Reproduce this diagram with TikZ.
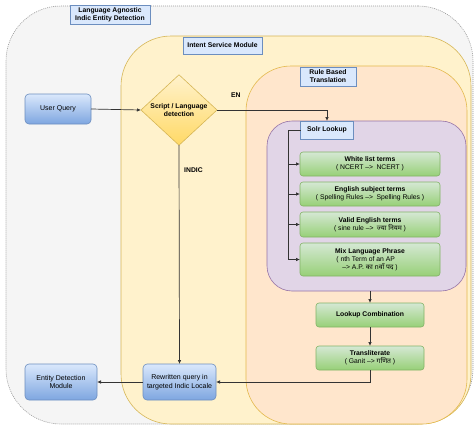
\documentclass[tikz,border=0pt]{standalone}
\usepackage{fontspec}
\setmainfont{Liberation Sans}
\newfontfamily\deva[Script=Devanagari]{Noto Sans}
\usetikzlibrary{shapes.geometric,arrows.meta}
\definecolor{greyfill}{HTML}{F5F5F5}
\definecolor{greyline}{HTML}{9A9A9A}
\definecolor{yelfill}{HTML}{FFF2CC}
\definecolor{yelline}{HTML}{D6B656}
\definecolor{orfill}{HTML}{FFE6CC}
\definecolor{orline}{HTML}{D79B00}
\definecolor{pufill}{HTML}{E1D5E7}
\definecolor{puline}{HTML}{9673A6}
\definecolor{lblfill}{HTML}{DAE8FC}
\definecolor{lblline}{HTML}{6C8EBF}
\definecolor{bluebot}{HTML}{7EA6E0}
\definecolor{grtop}{HTML}{D5E8D4}
\definecolor{grbot}{HTML}{97D077}
\definecolor{grline}{HTML}{82B366}
\definecolor{dmbot}{HTML}{FFD966}
\definecolor{edge}{HTML}{333333}
\tikzset{
  box/.style={inner sep=0pt, outer sep=0pt},
  region/.style={box, rounded corners=#1},
  lbl/.style={box, draw=lblline, fill=lblfill, line width=0.6pt, align=center,
    font=\bfseries\fontsize{6.8}{8}\selectfont},
  bluebox/.style={box, draw=lblline, top color=lblfill, bottom color=bluebot,
    rounded corners=4pt, line width=0.6pt, align=center, font=\fontsize{7}{8.6}\selectfont},
  greenbox/.style={box, draw=grline, top color=grtop, bottom color=grbot,
    rounded corners=3pt, line width=0.6pt, align=center, font=\fontsize{6.8}{8.2}\selectfont},
  conn/.style={draw=edge, line width=0.7pt, -{Latex[length=4pt,width=3.5pt]}},
  edgelbl/.style={font=\bfseries\fontsize{6.8}{8}\selectfont, inner sep=0pt}
}
\begin{document}
\begin{tikzpicture}[x=1pt,y=-1pt]
\useasboundingbox (0,0) rectangle (474,431);
\clip (0,0) rectangle (474,431);
% containers
\node[region=55pt, draw=greyline, fill=greyfill, dash pattern=on 1pt off 1pt, line width=0.6pt,
  minimum width=467pt, minimum height=418pt] (grey) at (239.5,215) {};
\node[region=50pt, draw=yelline, fill=yelfill, line width=0.6pt,
  minimum width=350pt, minimum height=388pt] (yellow) at (296,230) {};
\node[region=45pt, draw=orline!70, fill=orfill, line width=0.6pt,
  minimum width=221pt, minimum height=358pt] (orange) at (356.5,245) {};
\node[region=25pt, draw=puline, fill=pufill, line width=0.6pt,
  minimum width=199pt, minimum height=170pt] (purple) at (366.5,206) {};
% container labels
\node[lbl, minimum width=80pt, minimum height=19pt] (tgrey) at (110,15) {Language Agnostic\\Indic Entity Detection};
\node[lbl, minimum width=79pt, minimum height=17pt] (tyellow) at (222.5,45.5) {Intent Service Module};
\node[lbl, minimum width=56pt, minimum height=19pt] (torange) at (328,76.5) {Rule Based\\Translation};
\node[lbl, minimum width=53pt, minimum height=18pt] (tpurple) at (327,130) {Solr Lookup};
% main nodes
\node[bluebox, minimum width=66pt, minimum height=30pt] (user) at (58,109) {User Query};
\node[box, diamond, draw=yelline, top color=yelfill, bottom color=dmbot, line width=0.6pt,
  minimum width=76pt, minimum height=68pt, align=center,
  font=\bfseries\fontsize{6.8}{8.4}\selectfont] (detect) at (179,110) {Script / Language\\detection};
\node[bluebox, minimum width=73pt, minimum height=36pt] (rewrite) at (179.5,382) {Rewritten query in\\targeted Indic Locale};
\node[bluebox, minimum width=72pt, minimum height=36pt] (entity) at (61,382) {Entity Detection\\Module};
% green boxes
\node[greenbox, minimum width=140pt, minimum height=24pt] (white) at (370,164) {\textbf{White list terms}\\( NCERT -->\enspace NCERT )};
\node[greenbox, minimum width=140pt, minimum height=24pt] (subject) at (370,194) {\textbf{English subject terms}\\( Spelling Rules -->\enspace Spelling Rules )};
\node[greenbox, minimum width=140pt, minimum height=25pt] (valid) at (370,224.5) {\textbf{Valid English terms}\\( sine rule -->\enspace {\deva ज्या नियम} )};
\node[greenbox, minimum width=140pt, minimum height=33pt] (mix) at (370,259.5) {\textbf{Mix Language Phrase}\\( nth Term of an AP\phantom{ ---}\\--> A.P. {\deva का nवाँ पद} )};
\node[greenbox, minimum width=108pt, minimum height=24pt] (combo) at (370,315) {\textbf{Lookup Combination}};
\node[greenbox, minimum width=108pt, minimum height=24pt] (translit) at (370,358) {\textbf{Transliterate}\\( Ganit --> {\deva गणित} )};
% connectors
\draw[conn] (user.east) -- (detect.west);
\draw[conn] (detect.east) -- (tpurple.north |- detect.east) -- (tpurple.north);
\draw[conn] (detect.south) -- (rewrite.north);
\coordinate (bus) at (288,130);
\draw[draw=edge, line width=0.7pt] (tpurple.west) -- (bus) -- (bus |- mix.west);
\foreach \n in {white,subject,valid,mix}
  \draw[conn] (bus |- \n.west) -- (\n.west);
\draw[conn] (combo.north |- purple.south) -- (combo.north);
\draw[conn] (combo.south) -- (translit.north);
\draw[conn] (translit.south) -- (translit.south |- rewrite.east) -- (rewrite.east);
\draw[conn] (rewrite.west) -- (entity.east);
% edge labels
\node[edgelbl, anchor=west] (en) at (231,95) {EN};
\node[edgelbl, anchor=west] (indic) at (184,170) {INDIC};
\end{tikzpicture}
\end{document}
